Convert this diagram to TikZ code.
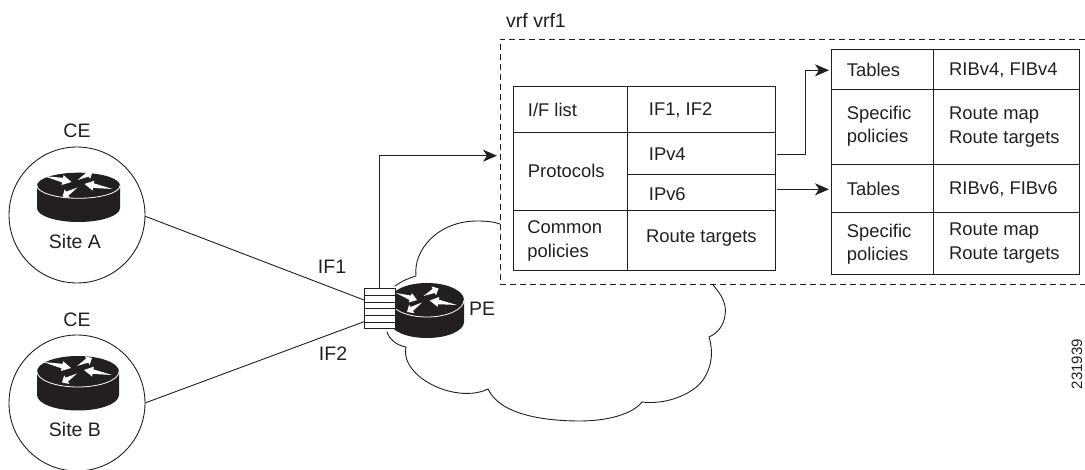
\documentclass[tikz,border=0pt]{standalone}
\usepackage{fontspec}
\setmainfont{Liberation Sans}
\usetikzlibrary{arrows.meta,calc}
\definecolor{ink}{HTML}{231F20}
\tikzset{
  x=1pt,y=-1pt,
  line/.style={draw=ink,line width=0.9pt},
  cellbox/.style={draw=ink,line width=0.9pt,inner sep=0pt,outer sep=0pt},
  txt/.style={text=ink,inner sep=0pt,anchor=west,align=left,font=\fontsize{18.4}{23.4}\selectfont},
  big/.style={text=ink,inner sep=0pt,font=\fontsize{19.5}{23}\selectfont},
  arrowed/.style={line,-{Stealth[length=14pt,width=12pt,inset=4pt]}},
  site/.style={circle,draw=ink,line width=0.9pt,minimum size=136pt,inner sep=0pt,outer sep=0pt},
  cloudline/.style={draw=ink,line width=0.9pt,line cap=round}
}
\newcommand{\routershape}[6]{% cx cy rx ry h ry2
\begin{scope}[shift={(#1,#2)}]
\fill[ink] (-#3,0) -- (-#3,#5) arc[start angle=180,end angle=360,x radius=#3pt,y radius=#6pt] -- (#3,0) arc[start angle=0,end angle=180,x radius=#3pt,y radius=#4pt] -- cycle;
\draw[white,line width=0.8pt] (-#3,0) arc[start angle=180,end angle=360,x radius=#3pt,y radius=#4pt];
\end{scope}}
\newcommand{\flowwedge}[2]{% tail, head
\coordinate (wa) at (#1);
\coordinate (wb) at (#2);
\coordinate (wm) at ($(wa)!0.68!(wb)$);
\fill[white] (wa) -- ($(wm)!2.3pt!90:(wb)$) -- ($(wm)!5pt!90:(wb)$) -- (wb) -- ($(wm)!5pt!-90:(wb)$) -- ($(wm)!2.3pt!-90:(wb)$) -- cycle;}
\newcommand{\cellnode}[5]{\node[cellbox,minimum width={(#4-#2)*1pt},minimum height={(#5-#3)*1pt}] (#1) at ({(#2+#4)/2},{(#3+#5)/2}) {};}
\begin{document}
\begin{tikzpicture}
\useasboundingbox (0,0) rectangle (1085,470);
% cloud
\draw[cloudline] (395,286) .. controls (402,281) and (409,278) .. (416,276)
  .. controls (413,250) and (438,221) .. (477,221)
  .. controls (487,221) and (495,222) .. (500,224);
\draw[cloudline] (713,285) .. controls (722,295) and (727,305) .. (725,315)
  .. controls (724,325) and (718,333) .. (709,337)
  .. controls (713,350) and (713,365) .. (703,380)
  .. controls (692,395) and (665,405) .. (642,402)
  .. controls (632,415) and (605,421) .. (580,421)
  .. controls (545,421) and (500,415) .. (488,389)
  .. controls (470,398) and (440,393) .. (420,377)
  .. controls (408,367) and (404,357) .. (406,347)
  .. controls (395,345) and (389,338) .. (387,332);
% dashed vrf frame
\coordinate (vrfTL) at (500,39.5);
\coordinate (vrfBL) at (500,284.5);
\coordinate (vrfTR) at (1085,39.5);
\coordinate (vrfBR) at (1085,284.5);
\draw[draw=ink,line width=0.8pt,dash pattern=on 6pt off 4pt] (vrfTR) -- (vrfTL) -- (vrfBL) -- (vrfBR);
\node[big,anchor=west] (vrfname) at (506,20) {vrf vrf1};
% sites
\node[site] (siteA) at (77,215) {};
\node[site] (siteB) at (77,403) {};
\routershape{78.5}{185.5}{41.5}{12.8}{22.5}{14}
\routershape{78}{371.5}{41}{15.5}{23.5}{15.5}
\begin{scope}[shift={(78.5,185.5)}]
\flowwedge{-35,-9.5}{-7,-3.5}
\flowwedge{-1,-5.5}{14,-13.5}
\flowwedge{-1,2}{-16,11}
\flowwedge{34,3.5}{6,-1.5}
\end{scope}
\begin{scope}[shift={(78,371.5)}]
\flowwedge{-35,-9.5}{-7,-3.5}
\flowwedge{-1,-5.5}{14,-13.5}
\flowwedge{-1,2}{-16,11}
\flowwedge{34,3.5}{6,-1.5}
\end{scope}
\node[big] (ceA) at (77,131) {CE};
\node[big] (nameA) at (75,241.5) {Site A};
\node[big] (ceB) at (77,320) {CE};
\node[big] (nameB) at (75,430) {Site B};
% PE router
\routershape{427}{300}{37}{17}{22}{16}
\begin{scope}[shift={(427,300)}]
\flowwedge{-31,-7}{-10,0}
\flowwedge{-3.5,-4}{11.5,-11.5}
\flowwedge{-5,2.5}{-20,12}
\flowwedge{30,5}{2.7,0.5}
\end{scope}
\node[cellbox,fill=white,minimum width=31pt,minimum height=40pt] (ports) at (379.5,308.7) {};
\foreach \yy in {295.4,302,308.7,315.4,322} \draw[line] (364,\yy) -- (395,\yy);
\node[big,anchor=west] (pe) at (469,309) {PE};
% links
\coordinate (if1end) at (364,300);
\coordinate (if2end) at (364,321.7);
\draw[line] (siteA.-1) -- (if1end);
\draw[line] (siteB.east) -- (if2end);
\node[big] (if1) at (332,267) {IF1};
\node[big] (if2) at (333,354) {IF2};
\coordinate (vrfin) at (497,155.7);
\draw[arrowed] (ports.north) |- (vrfin);
% left table
\cellnode{ifname}{513.7}{86}{627}{132.7}
\cellnode{ifval}{627}{86}{775}{132.7}
\cellnode{protoname}{513.7}{132.7}{627}{210}
\cellnode{ipfour}{627}{132.7}{775}{174}
\cellnode{ipsix}{627}{174}{775}{210}
\cellnode{commname}{513.7}{210}{627}{270}
\cellnode{commval}{627}{210}{775}{270}
\node[txt] (t1) at (527.7,110) {I/F list};
\node[txt] (t2) at (648.7,110) {IF1, IF2};
\node[txt] (t3) at (527.7,170.7) {Protocols};
\node[txt] (t4) at (648.7,154) {IPv4};
\node[txt] (t5) at (648.7,194) {IPv6};
\node[txt] (t6) at (527.2,241) {Common\\policies};
\node[txt] (t7) at (646,238) {Route targets};
% right table
\cellnode{tabA}{831.7}{49.3}{933}{89.3}
\cellnode{ribA}{933}{49.3}{1079.7}{89.3}
\cellnode{spA}{831.7}{89.3}{933}{164}
\cellnode{mapA}{933}{89.3}{1079.7}{164}
\cellnode{tabB}{831.7}{164}{933}{212}
\cellnode{ribB}{933}{164}{1079.7}{212}
\cellnode{spB}{831.7}{212}{933}{274.7}
\cellnode{mapB}{933}{212}{1079.7}{274.7}
\node[txt] (r1) at (846.7,70.3) {Tables};
\node[txt] (r2) at (949,70.3) {RIBv4, FIBv4};
\node[txt] (r3) at (846.7,126.5) {Specific\\policies};
\node[txt] (r4) at (949,127) {Route map\\Route targets};
\node[txt] (r5) at (846.7,189.3) {Tables};
\node[txt] (r6) at (949,189.3) {RIBv6, FIBv6};
\node[txt] (r7) at (846.7,244.5) {Specific\\policies};
\node[txt] (r8) at (949,243) {Route map\\Route targets};
% branch arrows
\coordinate (fromfour) at (777.3,154);
\coordinate (tofour) at (829,70.3);
\coordinate (fromsix) at (777.3,189.3);
\coordinate (tosix) at (829,189.3);
\draw[arrowed] (fromfour) -- (805,154) |- (tofour);
\draw[arrowed] (fromsix) -- (tosix);
\node[text=ink,inner sep=0pt,rotate=90,font=\fontsize{15}{16}\selectfont] (fig) at (1077,364) {231939};
\end{tikzpicture}
\end{document}
